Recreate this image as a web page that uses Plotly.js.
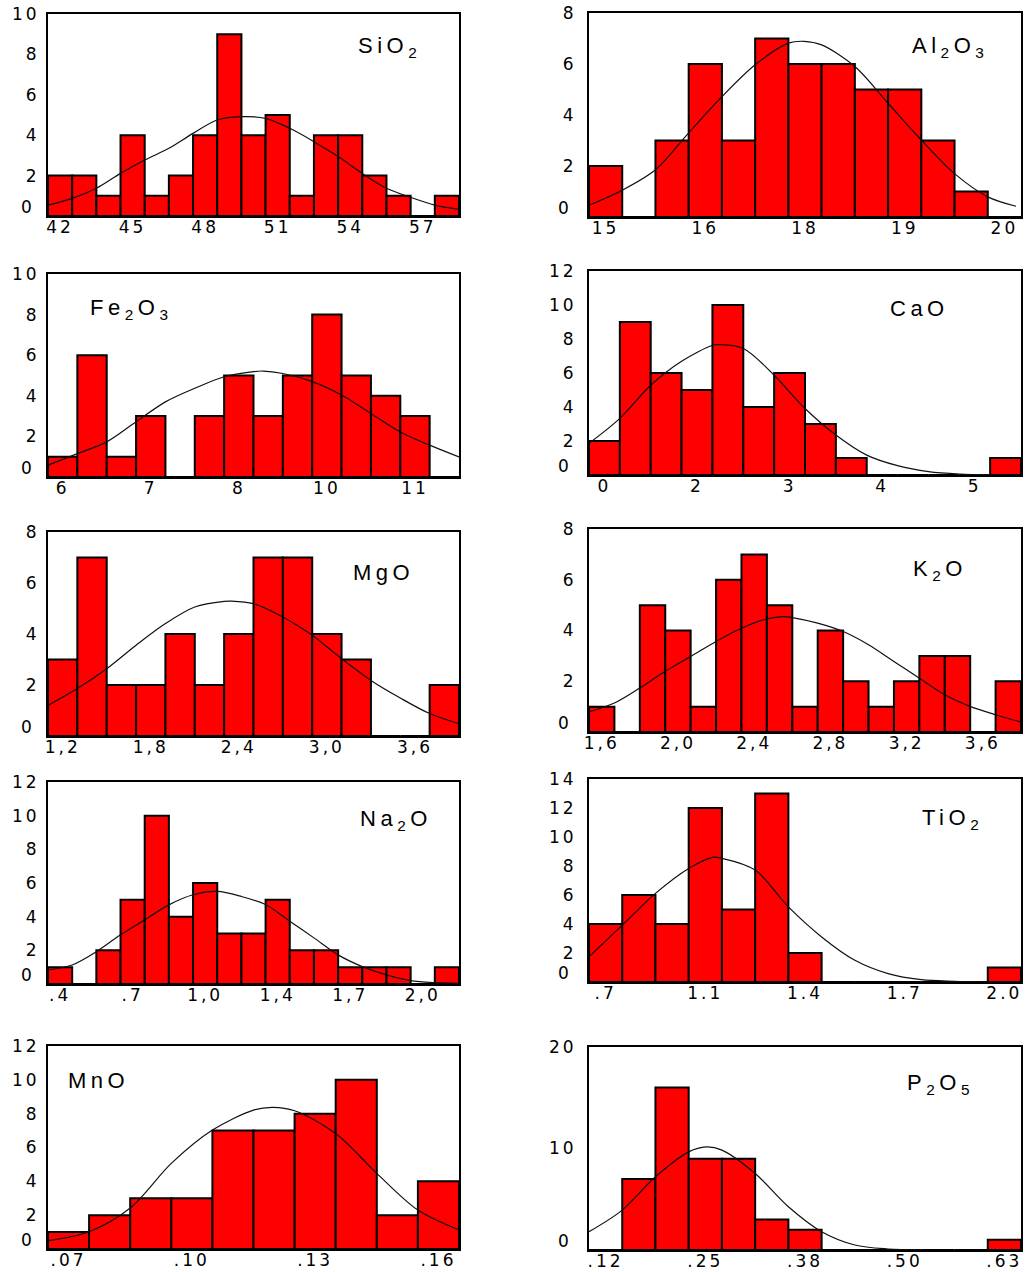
<!DOCTYPE html>
<html>
<head>
<meta charset="utf-8">
<script src="https://cdn.plot.ly/plotly-3.0.1.min.js"></script>
<style>
  html, body { margin: 0; padding: 0; background: #ffffff; }
  #chart { width: 1032px; height: 1272px; }
  g.xaxislayer-above text, g.yaxislayer-above text { letter-spacing: 3px; }
  .annotation-text { letter-spacing: 4.5px; }
</style>
</head>
<body>
<div id="chart"></div>
<script>
// ---------- SiO2 ----------
const sio2Bins   = [42,43,44,45,46,47,48,49,50,51,52,53,54,55,56,57,58];
const sio2Counts = [2,2,1,4,1,2,4,9,4,5,1,4,4,2,1,0,1];
const sio2CurveX = [41.5,42.5,43.5,44.5,45.5,46.5,47.5,48.5,49.5,50.5,51.5,52.5,53.5,54.5,55.5,56.5,57.5,58.5];
const sio2CurveY = [0.54,0.87,1.37,2.11,2.77,3.35,4.09,4.75,4.92,4.83,4.34,3.68,2.94,2.11,1.37,0.92,0.54,0.33];
const sio2TickVals = [42,45,48,51,54,57];
const sio2TickText = ['42','45','48','51','54','57'];

// ---------- Al2O3 ----------
const al2o3Bins   = [15.2,15.6,16.0,16.4,16.8,17.2,17.6,18.0,18.4,18.8,19.2,19.6,20.0];
const al2o3Counts = [2,0,3,6,3,7,6,6,5,5,3,1,0];
const al2o3CurveX = [15.0,15.4,15.8,16.2,16.6,17.0,17.4,17.59,17.8,18.2,18.6,19.0,19.4,19.8,20.14];
const al2o3CurveY = [0.46,1.05,1.85,3.3,4.72,5.97,6.82,6.89,6.75,5.9,4.46,3.02,1.7,0.79,0.42];
const al2o3TickVals = [15.2,16.4,17.6,18.8,20.0];
const al2o3TickText = ['15','16','18','19','20'];

// ---------- Fe2O3 ----------
const fe2o3Bins   = [6.0,6.4,6.8,7.2,7.6,8.0,8.4,8.8,9.2,9.6,10.0,10.4,10.8,11.2];
const fe2o3Counts = [1,6,1,3,0,3,5,3,5,8,5,4,3,0];
const fe2o3CurveX = [5.8,6.2,6.6,7.0,7.4,7.8,8.2,8.6,8.73,9.0,9.4,9.8,10.2,10.6,11.0,11.4];
const fe2o3CurveY = [0.58,1.15,1.73,2.72,3.7,4.37,4.94,5.19,5.22,5.1,4.7,4.04,3.13,2.22,1.57,0.99];
const fe2o3TickVals = [6.0,7.2,8.4,9.6,10.8];
const fe2o3TickText = ['6','7','8','10','11'];

// ---------- CaO ----------
const caoBins   = [0.4,0.8,1.2,1.6,2.0,2.4,2.8,3.2,3.6,4.0,4.4,4.8,5.2,5.6];
const caoCounts = [2,9,6,5,10,4,6,3,1,0,0,0,0,1];
const caoCurveX = [0.2,0.6,1.0,1.4,1.8,1.87,2.2,2.6,3.0,3.4,3.8,4.2,4.6,5.0,5.4];
const caoCurveY = [1.86,3.33,5.28,6.69,7.63,7.67,7.44,5.87,3.91,2.35,1.17,0.55,0.2,0.06,0.02];
const caoTickVals = [0.4,1.6,2.8,4.0,5.2];
const caoTickText = ['0','2','3','4','5'];

// ---------- MgO ----------
const mgoBins   = [1.2,1.4,1.6,1.8,2.0,2.2,2.4,2.6,2.8,3.0,3.2,3.4,3.6,3.8];
const mgoCounts = [3,7,2,2,4,2,4,7,7,4,3,0,0,2];
const mgoCurveX = [1.1,1.3,1.5,1.7,1.9,2.1,2.3,2.35,2.5,2.7,2.9,3.1,3.3,3.5,3.7,3.9];
const mgoCurveY = [1.2,1.86,2.64,3.56,4.41,5.06,5.28,5.29,5.19,4.67,3.95,3.03,2.18,1.49,0.88,0.48];
const mgoTickVals = [1.2,1.8,2.4,3.0,3.6];
const mgoTickText = ['1,2','1,8','2,4','3,0','3,6'];

// ---------- K2O ----------
const k2oBins   = [1.6,1.7333,1.8667,2.0,2.1333,2.2667,2.4,2.5333,2.6667,2.8,2.9333,3.0667,3.2,3.3333,3.4667,3.6,3.7333];
const k2oCounts = [1,0,5,4,1,6,7,5,1,4,2,1,2,3,3,0,2];
const k2oCurveX = [1.533,1.667,1.8,1.933,2.067,2.2,2.333,2.467,2.55,2.6,2.733,2.867,3.0,3.133,3.267,3.4,3.533,3.667,3.8];
const k2oCurveY = [0.79,1.14,1.73,2.39,2.98,3.57,4.09,4.46,4.55,4.51,4.29,3.96,3.44,2.78,2.12,1.47,1.01,0.68,0.39];
const k2oTickVals = [1.6,2.0,2.4,2.8,3.2,3.6];
const k2oTickText = ['1,6','2,0','2,4','2,8','3,2','3,6'];

// ---------- Na2O ----------
const na2oBins   = [0.38,0.49,0.60,0.71,0.82,0.93,1.04,1.15,1.26,1.37,1.48,1.59,1.70,1.81,1.92,2.03,2.14];
const na2oCounts = [1,0,2,5,10,4,6,3,3,5,2,2,1,1,1,0,1];
const na2oCurveX = [0.325,0.435,0.545,0.655,0.765,0.875,0.985,1.095,1.205,1.315,1.425,1.535,1.645,1.755,1.865,1.975,2.085,2.195];
const na2oCurveY = [0.83,1.13,1.92,2.92,3.81,4.7,5.3,5.5,5.2,4.72,3.73,2.74,1.73,1.03,0.54,0.2,0.08,0.04];
const na2oTickVals = [0.38,0.71,1.04,1.37,1.70,2.03];
const na2oTickText = ['.4','.7','1,0','1,4','1,7','2,0'];

// ---------- TiO2 ----------
const tio2Bins   = [0.74,0.845,0.95,1.055,1.16,1.265,1.37,1.475,1.58,1.685,1.79,1.895,2.0];
const tio2Counts = [4,6,4,12,5,13,2,0,0,0,0,0,1];
const tio2CurveX = [0.6875,0.7925,0.8975,1.0025,1.078,1.1075,1.2125,1.3175,1.4225,1.5275,1.6325,1.7375,1.8425,1.9475];
const tio2CurveY = [1.73,3.92,6.11,7.83,8.6,8.53,7.72,5.18,3.11,1.5,0.58,0.16,0.05,0];
const tio2TickVals = [0.74,1.055,1.37,1.685,2.0];
const tio2TickText = ['.7','1.1','1.4','1.7','2.0'];

// ---------- MnO ----------
const mnoBins   = [0.07,0.08,0.09,0.10,0.11,0.12,0.13,0.14,0.15,0.16];
const mnoCounts = [1,2,3,3,7,7,8,10,2,4];
const mnoCurveX = [0.065,0.075,0.085,0.095,0.105,0.115,0.1197,0.125,0.135,0.145,0.155,0.165];
const mnoCurveY = [0.49,1.02,2.42,5.06,7.03,8.21,8.37,8.17,6.83,4.47,2.3,1.12];
const mnoTickVals = [0.07,0.10,0.13,0.16];
const mnoTickText = ['.07','.10','.13','.16'];

// ---------- P2O5 ----------
const p2o5Bins   = [0.12,0.1625,0.205,0.2475,0.29,0.3325,0.375,0.4175,0.46,0.5025,0.545,0.5875,0.63];
const p2o5Counts = [0,7,16,9,9,3,2,0,0,0,0,0,1];
const p2o5CurveX = [0.09875,0.14125,0.18375,0.22625,0.2486,0.26875,0.31125,0.35375,0.39625,0.43875,0.48125,0.52375];
const p2o5CurveY = [1.8,3.93,7.21,9.67,10.16,9.84,7.54,4.26,1.8,0.49,0.1,0];
const p2o5TickVals = [0.12,0.2475,0.375,0.5025,0.63];
const p2o5TickText = ['.12','.25','.38','.50','.63'];

// y axis maxima and label steps (count axis)
const yMaxima = [10, 8, 10, 12, 8, 8, 12, 14, 12, 20];
const ySteps  = [2, 2, 2, 2, 2, 2, 2, 2, 2, 10];
const panelNames = ['SiO<sub>2</sub>','Al<sub>2</sub>O<sub>3</sub>','Fe<sub>2</sub>O<sub>3</sub>','CaO','MgO',
                    'K<sub>2</sub>O','Na<sub>2</sub>O','TiO<sub>2</sub>','MnO','P<sub>2</sub>O<sub>5</sub>'];

// ---------- layout geometry (pixels in the 1032x1272 page) ----------
const W = 1032, H = 1272;
const panels = [
  {bins: sio2Bins,  counts: sio2Counts,  cx: sio2CurveX,  cy: sio2CurveY,  tv: sio2TickVals,  tt: sio2TickText,  px: [48,459],  py: [14,216],   lab: [356,31]},
  {bins: al2o3Bins, counts: al2o3Counts, cx: al2o3CurveX, cy: al2o3CurveY, tv: al2o3TickVals, tt: al2o3TickText, px: [589,1021], py: [13,217],   lab: [910,31]},
  {bins: fe2o3Bins, counts: fe2o3Counts, cx: fe2o3CurveX, cy: fe2o3CurveY, tv: fe2o3TickVals, tt: fe2o3TickText, px: [48,459],  py: [274,477],  lab: [88,293]},
  {bins: caoBins,   counts: caoCounts,   cx: caoCurveX,   cy: caoCurveY,   tv: caoTickVals,   tt: caoTickText,   px: [589,1021], py: [271,475],  lab: [888,294]},
  {bins: mgoBins,   counts: mgoCounts,   cx: mgoCurveX,   cy: mgoCurveY,   tv: mgoTickVals,   tt: mgoTickText,   px: [48,459],  py: [532,736],  lab: [351,558]},
  {bins: k2oBins,   counts: k2oCounts,   cx: k2oCurveX,   cy: k2oCurveY,   tv: k2oTickVals,   tt: k2oTickText,   px: [589,1021], py: [529,732],  lab: [911,554]},
  {bins: na2oBins,  counts: na2oCounts,  cx: na2oCurveX,  cy: na2oCurveY,  tv: na2oTickVals,  tt: na2oTickText,  px: [48,459],  py: [782,984],  lab: [358,804]},
  {bins: tio2Bins,  counts: tio2Counts,  cx: tio2CurveX,  cy: tio2CurveY,  tv: tio2TickVals,  tt: tio2TickText,  px: [589,1021], py: [779,982],  lab: [920,803]},
  {bins: mnoBins,   counts: mnoCounts,   cx: mnoCurveX,   cy: mnoCurveY,   tv: mnoTickVals,   tt: mnoTickText,   px: [48,459],  py: [1046,1249], lab: [66,1066]},
  {bins: p2o5Bins,  counts: p2o5Counts,  cx: p2o5CurveX,  cy: p2o5CurveY,  tv: p2o5TickVals,  tt: p2o5TickText,  px: [589,1021], py: [1047,1250], lab: [905,1068]}
];

const tickFont = {family: 'DejaVu Sans, sans-serif', size: 17, color: '#000000'};
const traces = [];
const layout = {
  width: W, height: H,
  margin: {l: 0, r: 0, t: 0, b: 0},
  paper_bgcolor: '#ffffff', plot_bgcolor: '#ffffff',
  showlegend: false, bargap: 0,
  annotations: []
};

panels.forEach((p, i) => {
  const n = i + 1;
  const xa = n === 1 ? 'x' : 'x' + n;
  const ya = n === 1 ? 'y' : 'y' + n;
  const xKey = n === 1 ? 'xaxis' : 'xaxis' + n;
  const yKey = n === 1 ? 'yaxis' : 'yaxis' + n;
  const w = p.bins[1] - p.bins[0];
  const xr = [p.bins[0] - w / 2, p.bins[p.bins.length - 1] + w / 2];

  traces.push({
    type: 'bar', x: p.bins, y: p.counts, xaxis: xa, yaxis: ya,
    marker: {color: '#ff0000', line: {color: '#000000', width: 2}},
    hoverinfo: 'x+y'
  });
  traces.push({
    type: 'scatter', mode: 'lines', x: p.cx, y: p.cy, xaxis: xa, yaxis: ya,
    line: {color: '#111111', width: 1.2, shape: 'spline', smoothing: 0.9},
    cliponaxis: true, hoverinfo: 'skip'
  });

  const yvals = [], ytext = [];
  for (let v = ySteps[i]; v <= yMaxima[i]; v += ySteps[i]) { yvals.push(v); ytext.push(String(v)); }

  layout[xKey] = {
    domain: [p.px[0] / W, p.px[1] / W], anchor: ya, range: xr,
    showgrid: false, zeroline: false, showline: true, mirror: true,
    linecolor: '#000000', linewidth: 2, ticks: '',
    tickmode: 'array', tickvals: p.tv, ticktext: p.tt,
    tickfont: tickFont, ticklabelstandoff: -5, fixedrange: true
  };
  layout[yKey] = {
    domain: [1 - p.py[1] / H, 1 - p.py[0] / H], anchor: xa, range: [0, yMaxima[i]],
    showgrid: false, zeroline: false, showline: true, mirror: true,
    linecolor: '#000000', linewidth: 2, ticks: '',
    tickmode: 'array', tickvals: yvals, ticktext: ytext,
    tickfont: tickFont, ticklabelstandoff: i % 2 === 0 ? 3 : 7, fixedrange: true
  };

  // the "0" count label sits a little above the baseline in the original
  layout.annotations.push({
    xref: xa + ' domain', yref: ya, x: 0, y: 0, xanchor: 'right', yanchor: 'middle',
    xshift: i % 2 === 0 ? -10 : -14, yshift: 9, showarrow: false, text: '0', font: tickFont
  });
  // oxide name
  layout.annotations.push({
    xref: 'paper', yref: 'paper', x: p.lab[0] / W, y: 1 - p.lab[1] / H,
    xanchor: 'left', yanchor: 'top', showarrow: false, text: panelNames[i],
    font: {family: 'Liberation Sans, Arial, sans-serif', size: 22, color: '#000000'}
  });
});

Plotly.newPlot('chart', traces, layout, {staticPlot: true, displayModeBar: false});
</script>
</body>
</html>
